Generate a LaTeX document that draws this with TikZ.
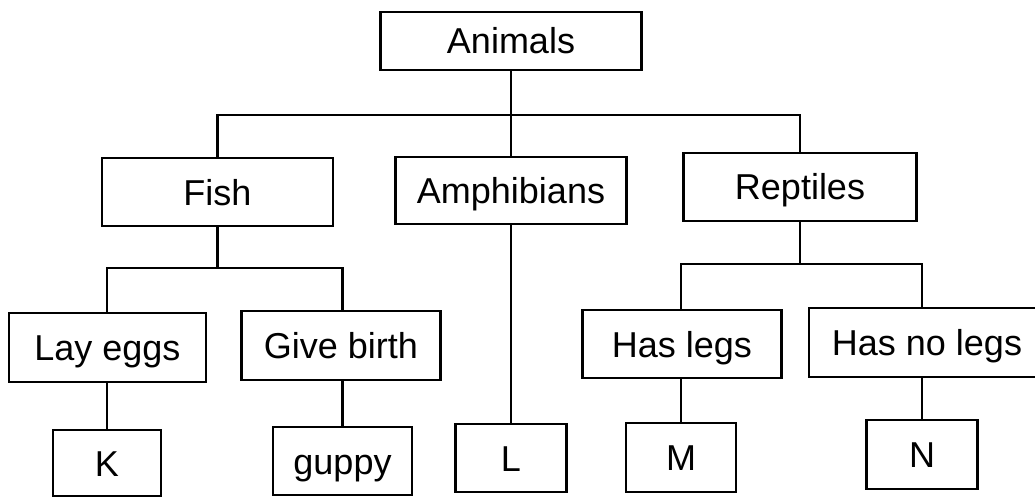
\documentclass[tikz,border=0pt]{standalone}
\usepackage{fontspec}
\setmainfont{Liberation Sans}
\begin{document}
\begin{tikzpicture}[x=1pt,y=-1pt,
  box/.style={draw, line width=2.2pt, inner sep=0pt, align=center,
    text height=26pt, text depth=0pt,
    font=\fontsize{36}{42}\selectfont},
  link/.style={line width=2.2pt}]
\useasboundingbox (0,0) rectangle (1035,497);
\clip (0,0) rectangle (1035,497);
\fill[white] (0,0) rectangle (1035,497);
% level 0
\node[box, minimum width=261, minimum height=58] (animals) at (511,41) {Animals};
% level 1
\node[box, minimum width=231, minimum height=68] (fish) at (217.5,192) {Fish};
\node[box, minimum width=231, minimum height=67] (amph) at (511,190.5) {Amphibians};
\node[box, minimum width=233, minimum height=68] (rept) at (800,187) {Reptiles};
% level 2
\node[box, minimum width=197, minimum height=69] (lay) at (107.5,347.5) {Lay eggs};
\node[box, minimum width=199, minimum height=69] (give) at (341,345.5) {Give birth};
\node[box, minimum width=199, minimum height=68] (legs) at (682,344) {Has legs};
\node[box, minimum width=236, minimum height=69] (nolegs) at (927,342.5) {Has no legs};
% level 3
\node[box, minimum width=108, minimum height=66] (k) at (107,463) {K};
\node[box, minimum width=139, minimum height=68] (guppy) at (342.5,461) {guppy};
\node[box, minimum width=111, minimum height=68] (l) at (511,458) {L};
\node[box, minimum width=110, minimum height=69] (m) at (681,457.5) {M};
\node[box, minimum width=111, minimum height=69] (n) at (922,454.5) {N};
% bus coordinates
\coordinate (bus1) at (0,115);
\coordinate (bus2) at (0,268);
\coordinate (bus3) at (0,264);
% connectors
\draw[link] (animals.south) -- (amph.north);
\draw[link] (fish.north) -- (fish.north |- bus1) -- (rept.north |- bus1) -- (rept.north);
\draw[link] (fish.south) -- (fish.south |- bus2);
\draw[link] (k.north |- lay.north) -- (k.north |- bus2) -- (guppy.north |- bus2) -- (guppy.north |- give.north);
\draw[link] (amph.south) -- (l.north);
\draw[link] (rept.south) -- (rept.south |- bus3);
\draw[link] (m.north |- legs.north) -- (m.north |- bus3) -- (n.north |- bus3) -- (n.north |- nolegs.north);
\draw[link] (k.north |- lay.south) -- (k.north);
\draw[link] (guppy.north |- give.south) -- (guppy.north);
\draw[link] (m.north |- legs.south) -- (m.north);
\draw[link] (n.north |- nolegs.south) -- (n.north);
\end{tikzpicture}
\end{document}
